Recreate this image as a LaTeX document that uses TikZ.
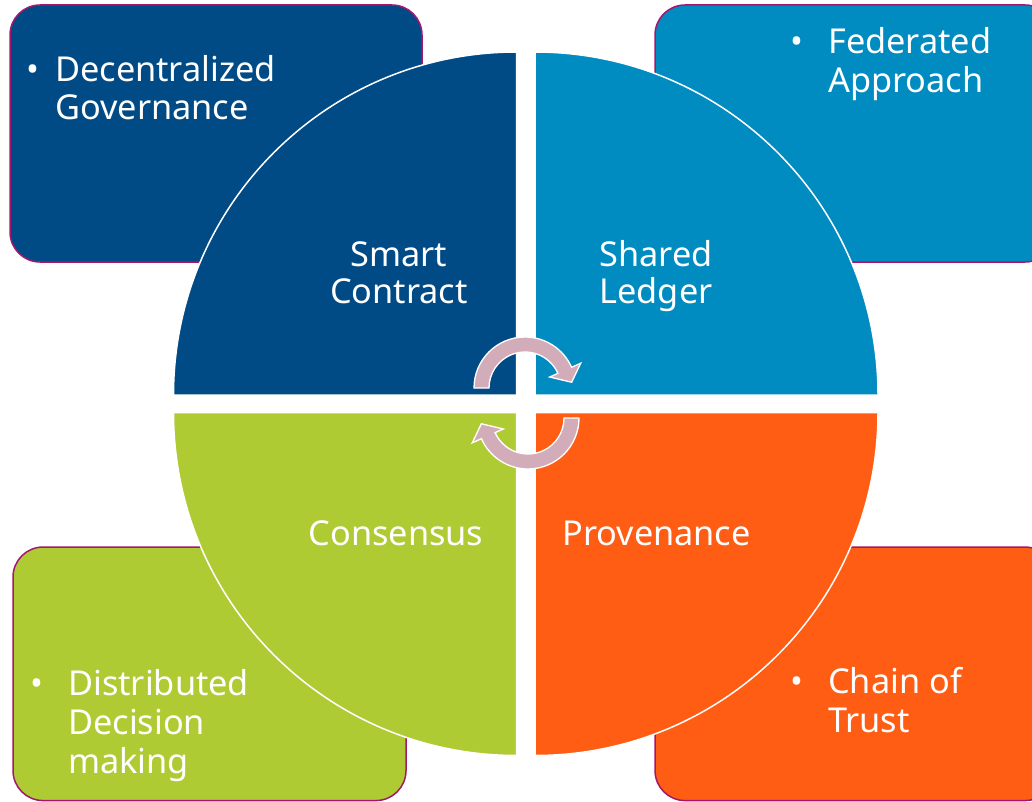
\documentclass[tikz,border=0pt]{standalone}
\usepackage{fontspec}
\setmainfont{Noto Sans}
\definecolor{cdarkblue}{RGB}{0,75,134}
\definecolor{clightblue}{RGB}{0,139,193}
\definecolor{cgreen}{RGB}{175,203,52}
\definecolor{corange}{RGB}{255,92,20}
\definecolor{cborder}{RGB}{163,23,111}
\definecolor{cpink}{RGB}{211,172,186}
\tikzset{
  cornerbox/.style={draw=cborder, line width=1.5pt, rounded corners=30pt, inner sep=0pt},
  quad/.style={draw=white, line width=1.5pt},
  boxtext/.style={text=white, anchor=base west, align=left, inner sep=0pt,
    font=\fontsize{34.3pt}{38.8pt}\selectfont},
  quadtext/.style={text=white, anchor=base, align=center, inner sep=0pt,
    font=\fontsize{34.3pt}{37pt}\selectfont},
  cyc/.style={fill=cpink, draw=white, line width=1.3pt, line join=miter}
}
\newcommand{\bul}[1]{\llap{\textbullet\hspace*{#1}}}
\begin{document}
\begin{tikzpicture}[x=1pt,y=-1pt]
\useasboundingbox (0,0) rectangle (1032,802);
\clip (0,0) rectangle (1032,802);
% corner boxes
\node[cornerbox, fill=cdarkblue, minimum width=412pt, minimum height=257pt] (tl) at (216,133.5) {};
\node[cornerbox, fill=clightblue, minimum width=400pt, minimum height=257pt] (tr) at (855,133.5) {};
\node[cornerbox, fill=cgreen, minimum width=393pt, minimum height=253.5pt] (bl) at (209.5,673.8) {};
\node[cornerbox, fill=corange, minimum width=400pt, minimum height=253.5pt] (br) at (855,673.8) {};
% quadrants
\path[quad, fill=cdarkblue] (516.5,395) -- ++(-343,0) arc[start angle=180,end angle=270,radius=343] -- cycle;
\path[quad, fill=clightblue] (535,395) -- ++(0,-343) arc[start angle=270,end angle=360,radius=343] -- cycle;
\path[quad, fill=corange] (535,412.5) -- ++(343,0) arc[start angle=0,end angle=90,radius=343] -- cycle;
\path[quad, fill=cgreen] (516.5,412.5) -- ++(0,343) arc[start angle=90,end angle=180,radius=343] -- cycle;
% cycle arrows
\begin{scope}[shift={(525,388)}]
\path[cyc] (180:51) arc[start angle=180,end angle=336,radius=51] -- (336:61) -- (353:47) -- (336:27) -- (336:36) arc[start angle=336,end angle=180,radius=36] -- cycle;
\end{scope}
\begin{scope}[shift={(528,418)},rotate=180]
\path[cyc] (180:51) arc[start angle=180,end angle=336,radius=51] -- (336:61) -- (353:47) -- (336:27) -- (336:36) arc[start angle=336,end angle=180,radius=36] -- cycle;
\end{scope}
% quadrant labels (anchor = baseline of last line)
\node[quadtext] (q1) at (399,303) {Smart\\Contract};
\node[quadtext] (q2) at (656,303) {Shared\\Ledger};
\node[quadtext] (q3) at (396,545) {Consensus};
\node[quadtext] (q4) at (656.5,545) {Provenance};
% box texts (anchor = baseline of last line)
\node[boxtext] (t1) at (55,120) {\bul{16pt}Decentralized\\Governance};
\node[boxtext] (t2) at (828,92.7) {\bul{24.5pt}Federated\\Approach};
\node[boxtext] (t3) at (68,773) {\bul{24.5pt}Distributed\\Decision\\making};
\node[boxtext] (t4) at (828,732.3) {\bul{24.5pt}Chain of\\Trust};
\end{tikzpicture}
\end{document}
